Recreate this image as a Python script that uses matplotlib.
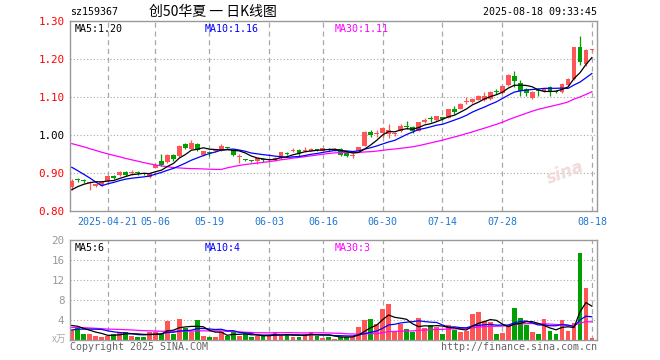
import matplotlib
matplotlib.use("Agg")
import matplotlib.pyplot as plt
import numpy as np
import pandas as pd

# ── data (价格 in yuan, volume in 万手) ─────────────────────────────────────
holidays = ["2025-05-01", "2025-05-02", "2025-05-05", "2025-06-02"]

open_ = [0.863, 0.883, 0.882, 0.873, 0.866, 0.869, 0.879, 0.893, 0.894, 0.903,
         0.900, 0.901, 0.899, 0.889, 0.913, 0.932, 0.928, 0.948, 0.944, 0.977,
         0.964, 0.977, 0.948, 0.956, 0.958, 0.960, 0.967, 0.960, 0.943, 0.935,
         0.933, 0.931, 0.937, 0.933, 0.934, 0.939, 0.952, 0.959, 0.961, 0.959,
         0.959, 0.962, 0.958, 0.964, 0.959, 0.964, 0.953, 0.945, 0.957, 0.972,
         1.009, 1.003, 1.005, 1.002, 1.003, 1.010, 1.024, 1.021, 1.011, 1.034,
         1.043, 1.040, 1.047, 1.045, 1.068, 1.069, 1.088, 1.086, 1.093, 1.093,
         1.095, 1.116, 1.111, 1.131, 1.156, 1.137, 1.121, 1.097, 1.118, 1.116,
         1.126, 1.116, 1.112, 1.131, 1.147, 1.231, 1.187, 1.223]
close = [0.878, 0.881, 0.880, 0.876, 0.870, 0.877, 0.891, 0.887, 0.903, 0.895,
         0.902, 0.899, 0.897, 0.899, 0.920, 0.922, 0.948, 0.937, 0.970, 0.966,
         0.979, 0.960, 0.957, 0.952, 0.961, 0.972, 0.965, 0.948, 0.945, 0.934,
         0.932, 0.939, 0.935, 0.935, 0.939, 0.955, 0.950, 0.961, 0.953, 0.961,
         0.964, 0.960, 0.965, 0.960, 0.964, 0.948, 0.944, 0.947, 0.968, 1.009,
         1.001, 1.005, 1.018, 1.013, 1.005, 1.025, 1.022, 1.011, 1.034, 1.040,
         1.041, 1.049, 1.042, 1.068, 1.060, 1.082, 1.090, 1.096, 1.103, 1.103,
         1.113, 1.114, 1.129, 1.157, 1.141, 1.115, 1.110, 1.112, 1.116, 1.120,
         1.115, 1.114, 1.135, 1.148, 1.231, 1.191, 1.223, 1.226]
high = [0.884, 0.887, 0.885, 0.878, 0.872, 0.879, 0.893, 0.894, 0.906, 0.904,
        0.908, 0.904, 0.901, 0.903, 0.921, 0.951, 0.949, 0.949, 0.974, 0.979,
        0.988, 0.978, 0.958, 0.958, 0.964, 0.977, 0.968, 0.962, 0.951, 0.937,
        0.935, 0.940, 0.939, 0.938, 0.941, 0.956, 0.954, 0.966, 0.962, 0.968,
        0.966, 0.964, 0.966, 0.966, 0.965, 0.966, 0.954, 0.952, 0.969, 1.010,
        1.014, 1.012, 1.022, 1.029, 1.008, 1.028, 1.036, 1.023, 1.035, 1.044,
        1.049, 1.050, 1.048, 1.069, 1.077, 1.083, 1.100, 1.097, 1.104, 1.112,
        1.117, 1.121, 1.131, 1.160, 1.168, 1.146, 1.123, 1.115, 1.124, 1.123,
        1.128, 1.118, 1.137, 1.149, 1.232, 1.260, 1.226, 1.227]
low = [0.854, 0.876, 0.873, 0.856, 0.864, 0.867, 0.877, 0.883, 0.893, 0.893,
       0.894, 0.894, 0.894, 0.887, 0.912, 0.918, 0.926, 0.931, 0.943, 0.964,
       0.963, 0.958, 0.946, 0.946, 0.955, 0.959, 0.962, 0.946, 0.926, 0.931,
       0.930, 0.924, 0.930, 0.928, 0.932, 0.938, 0.947, 0.956, 0.946, 0.955,
       0.957, 0.957, 0.957, 0.958, 0.957, 0.946, 0.942, 0.940, 0.955, 0.970,
       0.994, 0.996, 0.995, 0.991, 0.998, 1.008, 1.016, 1.004, 1.010, 1.031,
       1.034, 1.038, 1.040, 1.044, 1.056, 1.068, 1.081, 1.085, 1.091, 1.090,
       1.093, 1.107, 1.109, 1.129, 1.126, 1.102, 1.102, 1.095, 1.102, 1.113,
       1.102, 1.110, 1.110, 1.130, 1.146, 1.185, 1.182, 1.222]
volume = [2.0, 2.7, 1.2, 1.2, 0.8, 0.7, 0.8, 1.2, 1.7, 1.7,
          0.8, 0.7, 0.7, 1.7, 1.7, 1.2, 3.9, 1.3, 4.2, 2.5,
          1.7, 4.0, 0.8, 0.7, 0.7, 1.7, 0.8, 1.7, 0.8, 1.2,
          0.7, 0.8, 0.8, 0.8, 1.7, 0.8, 1.2, 0.7, 0.7, 1.3,
          1.7, 0.8, 0.5, 0.7, 0.3, 0.7, 0.7, 0.7, 2.7, 4.0,
          4.2, 3.3, 6.2, 7.3, 1.7, 3.3, 2.2, 1.7, 4.5, 2.5,
          3.0, 2.7, 1.3, 3.0, 2.1, 1.7, 1.9, 5.2, 5.7, 3.9,
          3.7, 1.2, 1.5, 3.0, 6.4, 4.4, 3.0, 1.6, 1.3, 4.2,
          1.9, 1.2, 4.0, 1.9, 3.5, 17.5, 10.5, 0.4]

# sessions before the window, only used to seed the moving averages
prior_close = [1.005, 1.012, 1.018, 1.010, 1.022, 1.015, 1.008, 1.016, 1.020, 1.012,
               1.005, 1.010, 1.003, 0.998, 1.006, 1.012, 1.004, 0.998, 1.000, 0.996,
               0.970, 0.975, 0.972, 0.978, 0.975, 0.840, 0.850, 0.855, 0.857]
prior_volume = [2.5, 3.0, 2.8, 2.6, 3.2, 2.9, 2.4, 2.7, 3.1, 2.6,
                2.8, 2.5, 2.9, 3.0, 2.6, 2.7, 2.8, 2.5, 2.9, 2.7,
                1.0, 1.2, 1.1, 1.0, 1.2, 3.5, 3.3, 3.0, 2.7]

tick_dates = ["2025-04-21", "2025-05-06", "2025-05-19", "2025-06-03", "2025-06-16",
              "2025-06-30", "2025-07-14", "2025-07-28", "2025-08-18"]
price_ticks = [0.80, 0.90, 1.00, 1.10, 1.20, 1.30]
price_tick_colors = ["#FF0000", "#FF0000", "#000000", "#FF0000", "#FF0000", "#FF0000"]
vol_ticks = [4, 8, 12, 16, 20]

# ── derived ───────────────────────────────────────────────────────────────
dates = pd.bdate_range("2025-04-11", "2025-08-18")
dates = dates[~dates.isin(pd.to_datetime(holidays))]
x = np.arange(len(dates))
tick_idx = [int(np.where(dates == pd.Timestamp(d))[0][0]) for d in tick_dates]
tick_lbl = [pd.Timestamp(d).strftime("%Y-%m-%d" if i == 0 else "%m-%d")
            for i, d in enumerate(tick_dates)]

n0 = len(prior_close)
cs = pd.Series(prior_close + close)
vs = pd.Series(prior_volume + volume)
ma = {n: cs.rolling(n).mean().to_numpy()[n0:] for n in (5, 10, 30)}
vma = {n: vs.rolling(n).mean().to_numpy()[n0:] for n in (5, 10, 30)}

o, c = np.array(open_), np.array(close)
RED, GREEN = "#FF5555", "#00A000"
colors = np.where(c >= o, RED, GREEN)
MA_COL = {5: "#000000", 10: "#0000FF", 30: "#FF00FF"}
GRID = "#A8A8A8"
MONO = "DejaVu Sans Mono"
CJK = ["Noto Sans CJK SC", "DejaVu Sans"]
FS = 7.2

W, H = 660, 360
fig = plt.figure(figsize=(W / 100, H / 100), dpi=100)


def box(l, t, r, b):
    return [l / W, 1 - b / H, (r - l) / W, (b - t) / H]


def ftext(px, py, s, **kw):
    kw.setdefault("family", MONO)
    kw.setdefault("fontsize", FS)
    fig.text(px / W, 1 - py / H, s, **kw)


ax = fig.add_axes(box(70, 21, 597, 211))
axv = fig.add_axes(box(70, 240, 597, 340))

for a in (ax, axv):
    a.set_xlim(-0.3, 87.85)
    for s in a.spines.values():
        s.set_color("#999999")
        s.set_linewidth(1)
    for i in tick_idx:
        a.axvline(i, color=GRID, lw=0.9, ls=(0, (4, 3)), zorder=0)
    a.tick_params(length=0)

# ── price panel ──
ax.set_ylim(0.80, 1.30)
for yv in price_ticks[1:-1]:
    ax.axhline(yv, color=GRID, lw=0.8, ls=(0, (1, 2)), zorder=0)
body_lo = np.minimum(o, c)
body_h = np.maximum(np.abs(c - o), 0.0026)
ax.vlines(x, low, high, colors=colors, lw=0.9, zorder=2)
ax.bar(x, body_h, 0.8, bottom=body_lo, color=colors, linewidth=0, zorder=3)
for n in (30, 10, 5):
    ax.plot(x, ma[n], color=MA_COL[n], lw=0.9, zorder=4)

ax.tick_params(axis="y", pad=4)
ax.tick_params(axis="x", pad=4)
ax.set_yticks(price_ticks)
ax.set_yticklabels([f"{v:.2f}" for v in price_ticks], family=MONO, fontsize=FS + 0.6)
for lbl, col in zip(ax.get_yticklabels(), price_tick_colors):
    lbl.set_color(col)
ax.set_xticks(tick_idx)
ax.set_xticklabels(tick_lbl, family=MONO, fontsize=FS, color="#1E78D2")

ax.text(0.008, 0.985, "MA5:1.20", transform=ax.transAxes, va="top",
        family=MONO, fontsize=FS, color=MA_COL[5])
ax.text(0.256, 0.985, "MA10:1.16", transform=ax.transAxes, va="top",
        family=MONO, fontsize=FS, color=MA_COL[10])
ax.text(0.502, 0.985, "MA30:1.11", transform=ax.transAxes, va="top",
        family=MONO, fontsize=FS, color=MA_COL[30])
ax.text(0.94, 0.2, "sina", transform=ax.transAxes, ha="center", va="center",
        fontsize=12, fontstyle="italic", fontweight="bold", color="#F0DADA",
        rotation=20, zorder=1)

# ── volume panel ──
axv.set_ylim(0, 20)
for yv in vol_ticks[:-1]:
    axv.axhline(yv, color=GRID, lw=0.8, ls=(0, (1, 2)), zorder=0)
axv.bar(x, volume, 0.8, color=colors, linewidth=0, zorder=2)
for n in (30, 10, 5):
    axv.plot(x, vma[n], color=MA_COL[n], lw=0.9, zorder=3)
axv.tick_params(axis="y", pad=4)
axv.set_yticks(vol_ticks)
axv.set_yticklabels([str(v) for v in vol_ticks], family=MONO, fontsize=FS + 0.6,
                    color="#999999")
axv.set_xticks([])

axv.text(0.008, 0.97, "MA5:6", transform=axv.transAxes, va="top",
         family=MONO, fontsize=FS, color=MA_COL[5])
axv.text(0.256, 0.97, "MA10:4", transform=axv.transAxes, va="top",
         family=MONO, fontsize=FS, color=MA_COL[10])
axv.text(0.502, 0.97, "MA30:3", transform=axv.transAxes, va="top",
         family=MONO, fontsize=FS, color=MA_COL[30])

# ── header / footer ──
ftext(70, 12, "sz159367", va="center")
ftext(213, 12, "创50华夏 一 日K线图", ha="center", va="center", family=CJK, fontsize=10)
ftext(597, 12, "2025-08-18 09:33:45", ha="right", va="center")
ftext(66, 339, "x万", ha="right", va="center", family=CJK, fontsize=7, color="#AAAAAA")
ftext(70, 347, "Copyright 2025 SINA.COM", va="center", color="#666666")
ftext(597, 347, "http://finance.sina.com.cn", ha="right", va="center", color="#666666")

fig.savefig("out.png", dpi=100)
plt.close(fig)
